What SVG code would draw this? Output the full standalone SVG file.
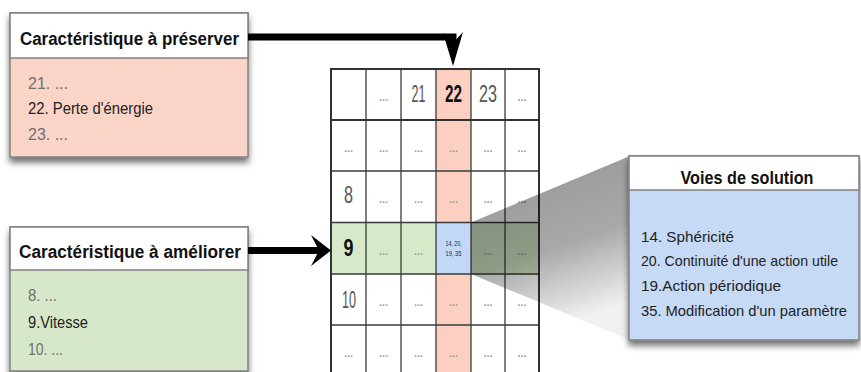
<svg xmlns="http://www.w3.org/2000/svg" width="861" height="372" viewBox="0 0 861 372">
<defs>
<filter id="sh" x="-10%" y="-10%" width="125%" height="130%">
<feDropShadow dx="0" dy="5" stdDeviation="3" flood-color="#000" flood-opacity="0.55"/>
</filter>
<linearGradient id="wg" x1="0" y1="0" x2="0.3" y2="1">
<stop offset="0" stop-color="#000" stop-opacity="0.42"/>
<stop offset="0.6" stop-color="#000" stop-opacity="0.34"/>
<stop offset="1" stop-color="#000" stop-opacity="0.06"/>
</linearGradient>
<style>
text { font-family: "Liberation Sans", Arial, sans-serif; }
.hd { font-size: 18px; font-weight: bold; fill: #111; }
.it { font-size: 17px; fill: #222; }
.sit { font-size: 15px; fill: #222; }
.gr { fill: #707070; }
.box { stroke: #808080; stroke-width: 1.5; }
.hdr { fill: #fff; stroke: #808080; stroke-width: 1.5; }
.grid { stroke: #3a3a3a; stroke-width: 1.3; fill: none; }
.outer { stroke: #333; stroke-width: 2; fill: none; }
.dt { font-size: 11px; font-weight: bold; fill: #9c9c9c; text-anchor: middle; }
.num { font-size: 23px; fill: #555; text-anchor: middle; }
.b { font-weight: bold; fill: #111; }
.arrow { stroke: #000; stroke-width: 7; fill: none; }
.head { fill: #000; }
</style>
</defs>

<!-- Box: caracteristique a preserver -->
<g id="preserver">
<rect x="10" y="13" width="238" height="144" fill="#f9d4c7" class="box" filter="url(#sh)"/>
<rect x="10" y="13" width="238" height="45" class="hdr"/>
<text x="20" y="45" class="hd" textLength="219" lengthAdjust="spacingAndGlyphs">Caractéristique à préserver</text>
<text x="28" y="89" class="it gr" textLength="40" lengthAdjust="spacingAndGlyphs">21. ...</text>
<text x="28" y="114" class="it" textLength="125" lengthAdjust="spacingAndGlyphs">22. Perte d'énergie</text>
<text x="28" y="140" class="it gr" textLength="40" lengthAdjust="spacingAndGlyphs">23. ...</text>
</g>

<!-- Box: caracteristique a ameliorer -->
<g id="ameliorer">
<rect x="10" y="227" width="238" height="144" fill="#d6e8c9" class="box" filter="url(#sh)"/>
<rect x="10" y="227" width="238" height="43" class="hdr"/>
<text x="19" y="258" class="hd" textLength="222" lengthAdjust="spacingAndGlyphs">Caractéristique à améliorer</text>
<text x="28" y="301" class="it gr" textLength="29" lengthAdjust="spacingAndGlyphs">8. ...</text>
<text x="28" y="328" class="it" textLength="60" lengthAdjust="spacingAndGlyphs">9.Vitesse</text>
<text x="28" y="355" class="it gr" textLength="35" lengthAdjust="spacingAndGlyphs">10. ...</text>
</g>

<!-- Matrix -->
<g id="matrix">
<rect x="436" y="69" width="35" height="307" fill="#fbd0c0"/>
<rect x="331" y="222.5" width="208" height="51.5" fill="#d6eac9"/>
<rect x="436" y="222.5" width="35" height="51.5" fill="#c2d8f7"/>
<path class="grid" d="M366,69V376 M401,69V376 M436,69V376 M471,69V376 M505,69V376 M331,171H539 M331,222.5H539 M331,274H539 M331,325H539"/>
<path class="outer" d="M331,120H539"/>
<path class="outer" d="M331,376V69H539V376"/>
<!-- header row -->
<text x="383.5" y="101" class="dt">...</text>
<text x="418.5" y="102" class="num" textLength="14" lengthAdjust="spacingAndGlyphs">21</text>
<text x="453.5" y="102" class="num b" textLength="17" lengthAdjust="spacingAndGlyphs">22</text>
<text x="488" y="102" class="num" textLength="18" lengthAdjust="spacingAndGlyphs">23</text>
<text x="522" y="101" class="dt">...</text>
<!-- row 1 -->
<g transform="translate(0,152)">
<text x="348.5" y="0" class="dt">...</text><text x="383.5" y="0" class="dt">...</text><text x="418.5" y="0" class="dt">...</text><text x="453.5" y="0" class="dt">...</text><text x="488" y="0" class="dt">...</text><text x="522" y="0" class="dt">...</text>
</g>
<!-- row 8 -->
<text x="348.5" y="203" class="num" textLength="9" lengthAdjust="spacingAndGlyphs">8</text>
<g transform="translate(0,203)">
<text x="383.5" y="0" class="dt">...</text><text x="418.5" y="0" class="dt">...</text><text x="453.5" y="0" class="dt">...</text><text x="488" y="0" class="dt">...</text><text x="522" y="0" class="dt">...</text>
</g>
<!-- row 9 -->
<text x="348.5" y="255.5" class="num b" textLength="10" lengthAdjust="spacingAndGlyphs">9</text>
<g transform="translate(0,255)">
<text x="383.5" y="0" class="dt">...</text><text x="418.5" y="0" class="dt">...</text><text x="488" y="0" class="dt">...</text><text x="522" y="0" class="dt">...</text>
</g>
<text x="453.5" y="246" font-size="8" fill="#1a2550" text-anchor="middle" textLength="16" lengthAdjust="spacingAndGlyphs">14, 20,</text>
<text x="453.5" y="256" font-size="8" fill="#1a2550" text-anchor="middle" textLength="16" lengthAdjust="spacingAndGlyphs">19, 35</text>
<!-- row 10 -->
<text x="349" y="308" class="num" textLength="14" lengthAdjust="spacingAndGlyphs">10</text>
<g transform="translate(0,306)">
<text x="383.5" y="0" class="dt">...</text><text x="418.5" y="0" class="dt">...</text><text x="453.5" y="0" class="dt">...</text><text x="488" y="0" class="dt">...</text><text x="522" y="0" class="dt">...</text>
</g>
<!-- last row -->
<g transform="translate(0,357)">
<text x="348.5" y="0" class="dt">...</text><text x="383.5" y="0" class="dt">...</text><text x="418.5" y="0" class="dt">...</text><text x="453.5" y="0" class="dt">...</text><text x="488" y="0" class="dt">...</text><text x="522" y="0" class="dt">...</text>
</g>
</g>

<!-- Callout wedge -->
<g id="wedge">
<polygon points="471,222.5 630,156 630,340 471,274" fill="url(#wg)"/>
</g>

<!-- Box: voies de solution -->
<g id="solution">
<rect x="629" y="156" width="230" height="184" fill="#c6daf6" class="box" filter="url(#sh)"/>
<rect x="629" y="156" width="230" height="34" class="hdr"/>
<text x="747" y="184" class="hd" text-anchor="middle" textLength="133" lengthAdjust="spacingAndGlyphs">Voies de solution</text>
<text x="641" y="242" class="sit" textLength="93" lengthAdjust="spacingAndGlyphs">14. Sphéricité</text>
<text x="641" y="266" class="sit" textLength="197" lengthAdjust="spacingAndGlyphs">20. Continuité d'une action utile</text>
<text x="641" y="291" class="sit" textLength="140" lengthAdjust="spacingAndGlyphs">19.Action périodique</text>
<text x="641" y="316" class="sit" textLength="206" lengthAdjust="spacingAndGlyphs">35. Modification d'un paramètre</text>
</g>

<!-- Connectors -->
<g id="connectors">
<path class="arrow" d="M248,37H453V46"/>
<polygon class="head" points="443,33 453,43 463,32 453,66"/>
<path class="arrow" d="M248,250.5H320"/>
<polygon class="head" points="311,235 319,250.5 311,266 331,250.5"/>
</g>
</svg>
